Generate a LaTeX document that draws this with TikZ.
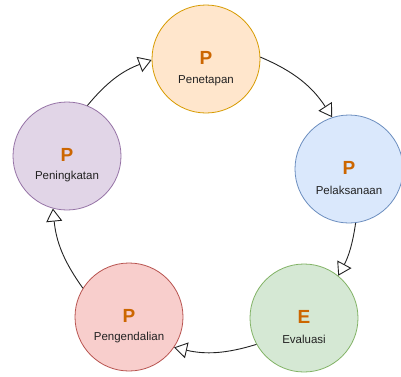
\documentclass[tikz,border=0pt]{standalone}
\usepackage{fontspec}
\setmainfont{Liberation Sans}
\usetikzlibrary{arrows.meta}
\definecolor{oranye}{HTML}{CC6600}
\definecolor{teks}{HTML}{222222}
\definecolor{garis}{HTML}{222222}

\begin{document}
\begin{tikzpicture}[x=1pt, y=1pt, >={Triangle[open, length=13pt, width=16pt]},
    fase/.style={circle, minimum size=108pt, inner sep=0pt, line width=0.8pt},
    huruf/.style={font=\fontsize{19}{21}\selectfont\bfseries, text=oranye},
    nama/.style={font=\fontsize{11.5}{13}\selectfont, text=teks},
    panah/.style={->, line width=0.9pt, draw=garis}]
    \useasboundingbox (0,0) rectangle (401,376);
    % lima lingkaran siklus
    \node[fase, fill={rgb,255:red,255;green,230;blue,204}, draw={rgb,255:red,215;green,155;blue,0}] (pet) at (206,317) {};
    \node[fase, fill={rgb,255:red,218;green,232;blue,252}, draw={rgb,255:red,108;green,142;blue,191}] (pel) at (349,207) {};
    \node[fase, fill={rgb,255:red,213;green,232;blue,212}, draw={rgb,255:red,130;green,179;blue,102}] (eva) at (304,58) {};
    \node[fase, fill={rgb,255:red,248;green,206;blue,204}, draw={rgb,255:red,184;green,84;blue,80}] (pgd) at (129,59) {};
    \node[fase, fill={rgb,255:red,225;green,213;blue,231}, draw={rgb,255:red,150;green,115;blue,166}] (pgk) at (67,220) {};
    % huruf dan nama
    \node[huruf] (pet-h) at ([yshift=1pt]pet.center) {P};
    \node[nama] (pet-n) at ([yshift=-22pt]pet.center) {Penetapan};
    \node[huruf] (pel-h) at ([yshift=1pt]pel.center) {P};
    \node[nama] (pel-n) at ([yshift=-21pt]pel.center) {Pelaksanaan};
    \node[huruf] (eva-h) at ([yshift=1pt]eva.center) {E};
    \node[nama] (eva-n) at ([yshift=-21pt]eva.center) {Evaluasi};
    \node[huruf] (pgd-h) at ([yshift=1pt]pgd.center) {P};
    \node[nama] (pgd-n) at ([yshift=-21pt]pgd.center) {Pengendalian};
    \node[huruf] (pgk-h) at ([yshift=1pt]pgk.center) {P};
    \node[nama] (pgk-n) at ([yshift=-21pt]pgk.center) {Peningkatan};
    % panah melingkar
    \draw[panah] (pgk.68) to[bend left=15] (pet.181);
    \draw[panah] (pet.2) to[bend left=17] (pel.108);
    \draw[panah] (pel.-83) to[bend left=10] (eva.51);
    \draw[panah] (eva.209) to[bend left=15] (pgd.-34);
    \draw[panah] (pgd.148) to[bend left=15] (pgk.255);
\end{tikzpicture}
\end{document}
